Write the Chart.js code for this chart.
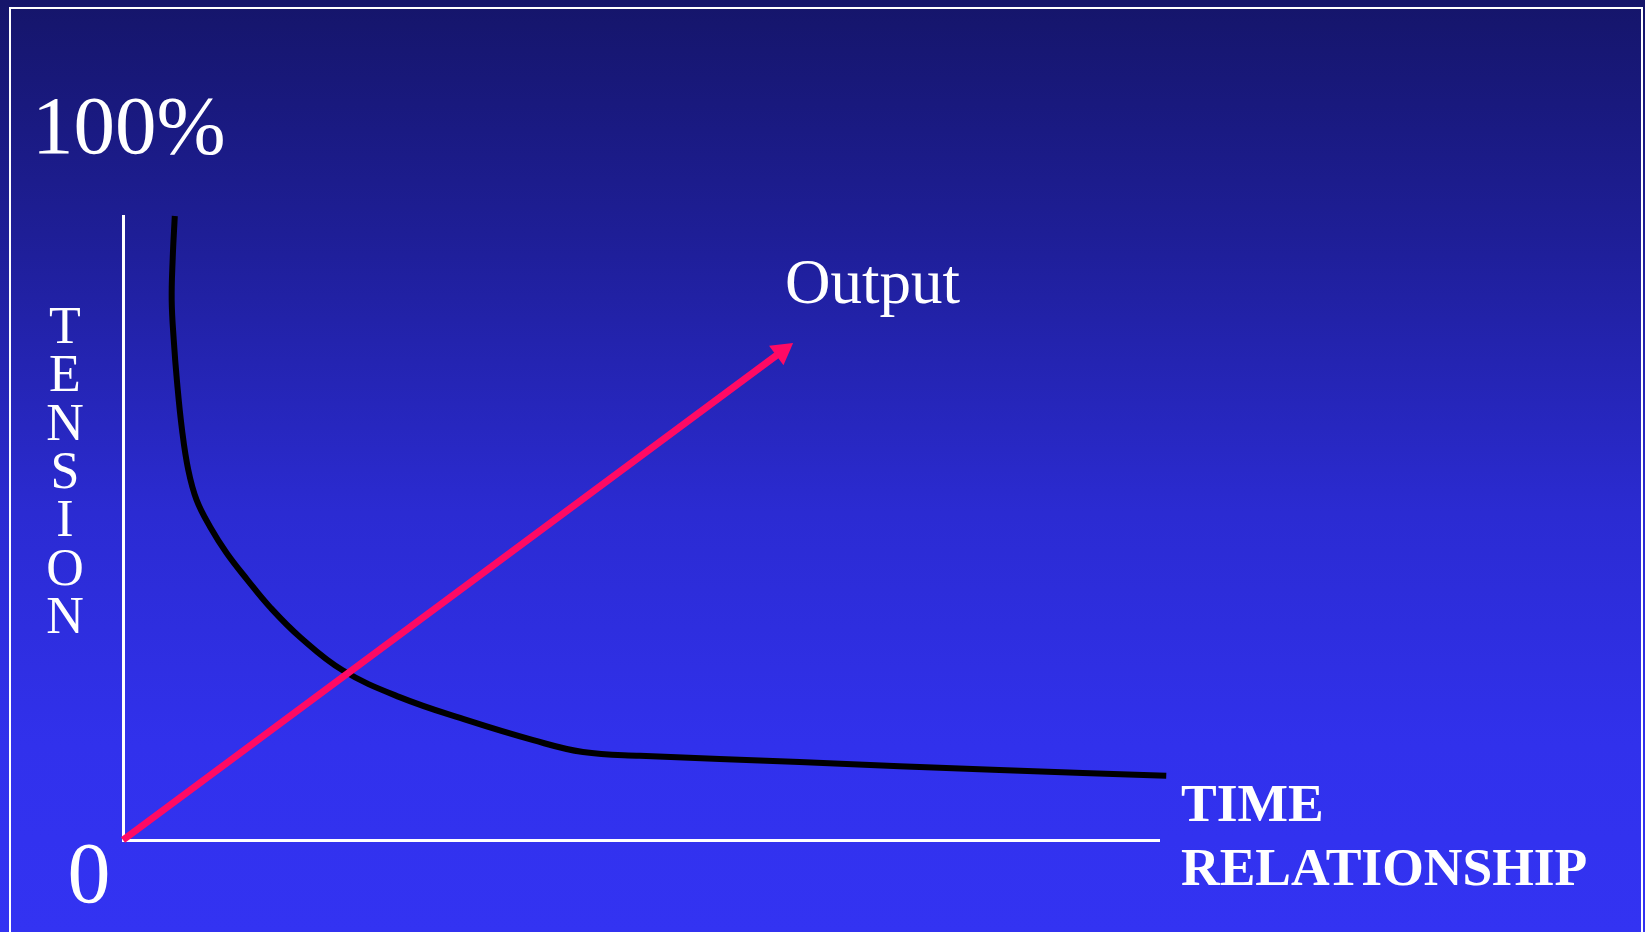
<!DOCTYPE html>
<html lang="en">
<head>
  <meta charset="UTF-8" />
  <title>Tension / Output over time</title>
  <style>
    html, body {
      margin: 0;
      padding: 0;
    }
    body {
      width: 1645px;
      height: 932px;
      overflow: hidden;
      position: relative;
      background: linear-gradient(to bottom, #15156a 0%, #1e1e96 25%, #2b2bd2 55%, #3131ec 80%, #3333f2 100%);
    }
    #frame {
      position: absolute;
      left: 9px;
      top: 7px;
      width: 1630px;
      height: 960px;
      border: 2px solid #fff;
    }
    canvas#chart {
      position: absolute;
      left: 0;
      top: 0;
    }
  </style>
</head>
<body>
  <div id="frame"></div>
  <canvas id="chart" width="1645" height="932"></canvas>

  <script src="https://cdn.jsdelivr.net/npm/chart.js"></script>
  <script>
    // tension curve (black), 0..100 on both axes
    const tensionX = [5.0, 4.8, 4.7, 4.9, 5.2, 5.7, 6.3, 7.1, 8.4, 10.0, 12.0, 14.2, 17.1, 21.2, 26.7, 33.2, 39.6, 44.4, 49.9, 65.3, 84.6, 100.7];
    const tensionY = [100, 93.3, 86.5, 80.1, 73.7, 65.7, 59.3, 54.5, 50.2, 46.0, 41.7, 37.3, 32.5, 27.2, 22.9, 19.2, 16.0, 14.1, 13.5, 12.5, 11.2, 10.3];

    // output arrow (pink), from the origin to the arrow head
    const outputX = [0, 63.6];
    const outputY = [0, 78.3];

    // texts
    const yTopLabel = '100%';
    const originLabel = '0';
    const yAxisLabel = 'TENSION';
    const xAxisLabel = ['TIME', 'RELATIONSHIP'];
    const arrowLabel = 'Output';

    const serif = '"Liberation Serif", "Times New Roman", serif';

    const toPoints = (xs, ys) => xs.map((x, i) => ({ x: x, y: ys[i] }));

    // arrow head rotation follows the line direction in pixels
    function arrowRotation(context) {
      const c = context.chart;
      const xs = c.scales.x, ys = c.scales.y;
      if (!xs || !ys) return 0;
      const dx = xs.getPixelForValue(outputX[1]) - xs.getPixelForValue(outputX[0]);
      const dy = ys.getPixelForValue(outputY[1]) - ys.getPixelForValue(outputY[0]);
      return Math.atan2(dx, -dy) * 180 / Math.PI;
    }

    const slideText = {
      id: 'slideText',
      afterDraw(chart) {
        const ctx = chart.ctx;
        const a = chart.chartArea;
        ctx.save();
        ctx.fillStyle = '#fff';
        ctx.textBaseline = 'alphabetic';

        ctx.font = '83px ' + serif;
        ctx.textAlign = 'left';
        ctx.fillText(yTopLabel, a.left - 91, a.top - 63);
        ctx.font = '86px ' + serif;
        ctx.textAlign = 'center';
        ctx.fillText(originLabel, a.left - 34, a.bottom + 62);

        // vertical stacked letters
        ctx.font = '52px ' + serif;
        ctx.textAlign = 'center';
        yAxisLabel.split('').forEach((ch, i) => {
          ctx.fillText(ch, a.left - 58, 343 + i * 48.3);
        });

        ctx.font = '63px ' + serif;
        ctx.textAlign = 'left';
        ctx.fillText(arrowLabel, a.left + 662, a.top + 87);

        ctx.font = 'bold 53.5px ' + serif;
        ctx.fillText(xAxisLabel[0], a.right + 22, a.bottom - 19);
        ctx.fillText(xAxisLabel[1], a.right + 22, a.bottom + 45);
        ctx.restore();
      }
    };

    const chart = new Chart(document.getElementById('chart'), {
      type: 'line',
      data: {
        datasets: [
          {
            label: 'Output',
            data: toPoints(outputX, outputY),
            borderColor: '#ff0a64',
            backgroundColor: '#ff0a64',
            borderWidth: 7,
            pointRadius: [0, 14],
            pointStyle: 'triangle',
            pointRotation: arrowRotation,
            pointBorderWidth: 0,
            pointBackgroundColor: '#ff0a64',
            clip: false,
            order: 0
          },
          {
            label: 'Tension',
            data: toPoints(tensionX, tensionY),
            borderColor: '#000',
            borderWidth: 6,
            pointRadius: 0,
            tension: 0.4,
            fill: false,
            clip: false,
            order: 1
          }
        ]
      },
      options: {
        responsive: false,
        animation: false,
        devicePixelRatio: 1,
        events: [],
        layout: {
          padding: { left: 123, top: 216, right: 486, bottom: 92 }
        },
        plugins: {
          legend: { display: false },
          tooltip: { enabled: false }
        },
        scales: {
          x: {
            type: 'linear',
            min: 0,
            max: 100,
            grid: { display: false, drawTicks: false },
            ticks: { display: false },
            border: { display: true, color: '#fff', width: 3 }
          },
          y: {
            type: 'linear',
            min: 0,
            max: 100,
            grid: { display: false, drawTicks: false },
            ticks: { display: false },
            border: { display: true, color: '#fff', width: 3 }
          }
        }
      },
      plugins: [slideText]
    });
  </script>
</body>
</html>
